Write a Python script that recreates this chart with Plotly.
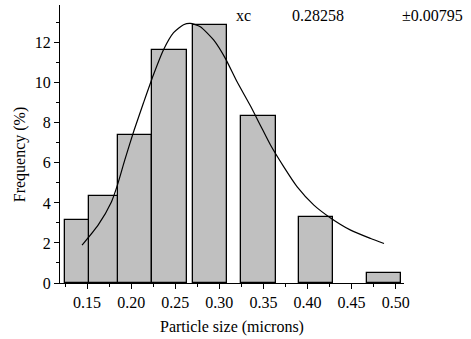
import plotly.graph_objects as go

# Histogram bars (bin centers in microns, frequency in %)
bar_centers = [0.1441, 0.1718, 0.2043, 0.2435, 0.2892, 0.3445, 0.4093, 0.4864]
bar_freq = [3.13, 4.35, 7.39, 11.62, 12.88, 8.33, 3.30, 0.52]
bar_width = 0.039

# Fitted distribution curve
curve_x = [0.1443, 0.1625, 0.1776, 0.1844, 0.1928, 0.2034, 0.2140, 0.2253, 0.2367,
           0.2481, 0.2594, 0.2670, 0.2784, 0.2935, 0.3068, 0.3201, 0.3352, 0.3466,
           0.3580, 0.3731, 0.3883, 0.4072, 0.4261, 0.4489, 0.4716, 0.4867]
curve_y = [1.89, 2.89, 4.05, 4.89, 6.15, 7.64, 9.00, 10.40, 11.65,
           12.50, 12.90, 12.97, 12.80, 12.14, 11.22, 10.05, 8.85, 7.87,
           6.89, 5.80, 4.80, 3.89, 3.25, 2.64, 2.22, 1.97]

x_ticks = [0.15, 0.20, 0.25, 0.30, 0.35, 0.40, 0.45, 0.50]
x_tick_labels = ["0.15", "0.20", "0.25", "0.30", "0.35", "0.40", "0.45", "0.50"]
y_ticks = [0, 2, 4, 6, 8, 10, 12]

fit_labels = ["xc", "0.28258", "\u00b10.00795"]

FONT = "Liberation Serif"

fig = go.Figure()
fig.add_trace(go.Bar(
    x=bar_centers, y=bar_freq, width=[bar_width] * len(bar_centers),
    marker=dict(color="#c0c0c0", line=dict(color="#000000", width=1.3)),
    showlegend=False,
))
fig.add_trace(go.Scatter(
    x=curve_x, y=curve_y, mode="lines",
    line=dict(color="#000000", width=1.2, shape="spline", smoothing=0.6),
    showlegend=False,
))

fig.update_layout(
    width=471, height=339,
    margin=dict(l=60, r=67, t=5, b=56),
    plot_bgcolor="white", paper_bgcolor="white",
    font=dict(family=FONT, size=16, color="#000000"),
    bargap=0,
)
fig.update_xaxes(
    range=[0.1193, 0.5094], showgrid=False, zeroline=False,
    showline=True, linecolor="#000000", linewidth=1.2,
    tickmode="array", tickvals=x_ticks, ticktext=x_tick_labels,
    ticks="outside", ticklen=5, tickwidth=1.2, tickcolor="#000000",
    minor=dict(ticks="outside", ticklen=3, tickwidth=1.2, tickcolor="#000000",
               tick0=0.125, dtick=0.05),
    tickfont=dict(family=FONT, size=16),
)
fig.update_yaxes(
    range=[0, 13.885], showgrid=False, zeroline=False,
    showline=True, linecolor="#000000", linewidth=1.2,
    tickmode="array", tickvals=y_ticks,
    ticks="outside", ticklen=5, tickwidth=1.2, tickcolor="#000000",
    minor=dict(ticks="outside", ticklen=3, tickwidth=1.2, tickcolor="#000000",
               tick0=1, dtick=2),
    tickfont=dict(family=FONT, size=16),
)

# Axis titles
fig.add_annotation(text="Particle size (microns)", xref="paper", yref="paper",
                   x=0.5, y=-0.16, xanchor="center", yanchor="middle",
                   showarrow=False, font=dict(family=FONT, size=16))
fig.add_annotation(text="Frequency (%)", xref="paper", yref="paper",
                   x=-0.116, y=0.4634, xanchor="center", yanchor="middle",
                   textangle=-90, showarrow=False, font=dict(family=FONT, size=16))

# Fit parameter label
for txt, px in zip(fit_labels, [0.5067, 0.6686, 0.988]):
    fig.add_annotation(text=txt, xref="paper", yref="paper", x=px, y=0.964,
                       xanchor="left", yanchor="middle", showarrow=False,
                       font=dict(family=FONT, size=16))

fig.write_html("out.html")
